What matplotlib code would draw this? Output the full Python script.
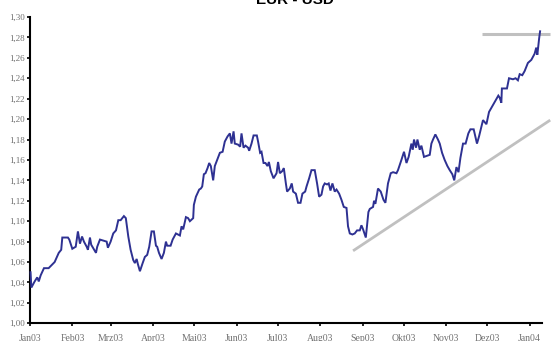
import numpy as np
import pandas as pd
import matplotlib
matplotlib.use("Agg")
import matplotlib.pyplot as plt


# ============================================================
# Data
# ============================================================

START = pd.Timestamp("2003-01-01")

# days since 2003-01-01
DAYS = [
    0.4, 1.0, 3.4, 5.3, 6.4, 7.8, 10.2, 13.6, 18.0, 21.0,
    22.8, 23.6, 27.7, 28.7, 30.9, 33.4, 35.0, 36.5, 38.0, 39.4,
    41.4, 42.3, 43.8, 44.7, 48.2, 49.1, 51.1, 56.0, 56.9, 58.9,
    60.8, 62.8, 64.5, 66.2, 68.6, 70.0, 71.8, 73.5, 75.4, 76.6,
    77.9, 78.8, 80.3, 82.3, 83.9, 85.6, 87.1, 88.8, 90.5, 92.0,
    92.9, 94.2, 96.1, 97.8, 99.3, 100.2, 102.7, 104.2, 106.6, 109.5,
    110.7, 111.9, 113.9, 115.5, 116.8, 119.2, 119.7, 121.2, 123.6, 124.8,
    125.8, 127.0, 128.2, 129.7, 130.9, 132.1, 133.8, 135.0, 136.7, 138.7,
    140.7, 142.3, 144.3, 146.0, 147.2, 148.7, 149.6, 152.0, 153.5, 154.5,
    156.0, 157.4, 159.3, 160.1, 161.8, 163.3, 165.7, 166.6, 168.1, 169.1,
    170.6, 172.0, 173.5, 174.5, 175.9, 177.9, 180.1, 181.2, 182.5, 184.2,
    185.4, 186.9, 187.8, 189.8, 191.2, 192.2, 194.2, 195.8, 197.6, 199.0,
    201.0, 202.0, 203.9, 205.6, 208.0, 209.7, 211.2, 212.9, 214.1, 215.3,
    217.0, 218.2, 219.5, 220.9, 222.6, 223.9, 225.8, 227.5, 229.2, 231.2,
    232.3, 233.6, 235.5, 237.2, 238.9, 240.9, 242.1, 243.3, 245.3, 247.2,
    248.2, 250.6, 251.3, 252.3, 254.2, 256.2, 258.2, 259.6, 261.5, 263.5,
    265.2, 267.7, 268.8, 271.3, 273.2, 275.0, 276.6, 278.6, 279.6, 280.5,
    282.0, 283.0, 284.7, 285.9, 287.8, 292.0, 293.2, 294.4, 296.1, 298.0,
    299.3, 301.0, 302.9, 304.9, 306.6, 308.5, 309.9, 311.5, 313.0, 314.4,
    316.3, 318.2, 320.2, 321.7, 324.1, 326.5, 328.0, 330.9, 333.4, 335.3,
    338.7, 342.1, 343.1, 344.3, 344.7, 348.4, 349.9, 352.8, 354.7, 356.4,
    357.7, 359.6, 361.3, 363.7, 366.2, 368.6, 369.8, 370.6, 371.9, 372.6,
]

EUR_USD = [
    1.050, 1.035, 1.041, 1.045, 1.041, 1.047, 1.054, 1.054, 1.060, 1.069,
    1.072, 1.084, 1.084, 1.082, 1.073, 1.075, 1.090, 1.078, 1.085, 1.080,
    1.075, 1.072, 1.084, 1.077, 1.069, 1.075, 1.082, 1.080, 1.074, 1.080,
    1.088, 1.091, 1.101, 1.101, 1.105, 1.103, 1.085, 1.072, 1.062, 1.059,
    1.063, 1.058, 1.051, 1.059, 1.065, 1.067, 1.075, 1.090, 1.090, 1.076,
    1.075, 1.069, 1.063, 1.069, 1.080, 1.076, 1.076, 1.082, 1.088, 1.086,
    1.095, 1.092, 1.104, 1.103, 1.100, 1.103, 1.116, 1.124, 1.131, 1.132,
    1.134, 1.146, 1.147, 1.152, 1.157, 1.154, 1.140, 1.154, 1.160, 1.167,
    1.168, 1.178, 1.183, 1.186, 1.176, 1.188, 1.176, 1.175, 1.173, 1.186,
    1.172, 1.174, 1.172, 1.169, 1.176, 1.184, 1.184, 1.178, 1.167, 1.168,
    1.157, 1.157, 1.154, 1.158, 1.149, 1.142, 1.147, 1.158, 1.147, 1.149,
    1.152, 1.137, 1.129, 1.132, 1.137, 1.129, 1.127, 1.118, 1.118, 1.127,
    1.129, 1.134, 1.142, 1.150, 1.150, 1.137, 1.124, 1.126, 1.134, 1.137,
    1.136, 1.137, 1.130, 1.137, 1.129, 1.131, 1.127, 1.121, 1.114, 1.113,
    1.095, 1.088, 1.087, 1.088, 1.091, 1.091, 1.096, 1.092, 1.084, 1.109,
    1.112, 1.114, 1.120, 1.117, 1.132, 1.129, 1.121, 1.118, 1.137, 1.147,
    1.148, 1.147, 1.150, 1.160, 1.168, 1.157, 1.163, 1.176, 1.170, 1.180,
    1.172, 1.180, 1.170, 1.174, 1.163, 1.165, 1.176, 1.180, 1.185, 1.180,
    1.176, 1.167, 1.160, 1.154, 1.150, 1.146, 1.140, 1.153, 1.148, 1.162,
    1.176, 1.176, 1.186, 1.190, 1.190, 1.176, 1.183, 1.199, 1.195, 1.207,
    1.215, 1.223, 1.221, 1.216, 1.230, 1.230, 1.240, 1.239, 1.240, 1.238,
    1.244, 1.243, 1.247, 1.255, 1.258, 1.264, 1.270, 1.263, 1.279, 1.286,
]

# grey support trend line and resistance level
TREND_DAYS = [236.0, 380.0]
TREND_VALUES = [1.071, 1.199]
RESIST_DAYS = [330.0, 380.0]
RESIST_VALUES = [1.283, 1.283]

MONTH_LABELS = [
    "Jan03", "Feb03", "Mrz03", "Apr03", "Mai03", "Jun03", "Jul03",
    "Aug03", "Sep03", "Okt03", "Nov03", "Dez03", "Jan04",
]
Y_TICKS = np.arange(1.00, 1.301, 0.02)


def to_dates(days):
    return START + pd.to_timedelta(days, unit="D")


# ============================================================
# Plot
# ============================================================

fig = plt.figure(figsize=(5.51, 3.41), dpi=100)
ax = fig.add_axes([30 / 551, 17.7 / 341, 512 / 551, 306.3 / 341])

ax.plot(to_dates(TREND_DAYS), TREND_VALUES, color="#c0c0c0",
        linewidth=2.0, solid_capstyle="butt", clip_on=False, zorder=2)
ax.plot(to_dates(RESIST_DAYS), RESIST_VALUES, color="#c0c0c0",
        linewidth=2.2, solid_capstyle="butt", clip_on=False, zorder=2)
ax.plot(to_dates(DAYS), EUR_USD, color="#2e3192", linewidth=1.4,
        solid_joinstyle="miter", clip_on=False, zorder=3)

ax.set_xlim(START, START + pd.Timedelta(days=374))
ax.set_ylim(1.00, 1.30)

month_ticks = pd.date_range("2003-01-01", "2004-01-01", freq="MS")
ax.set_xticks(month_ticks)
ax.set_xticklabels(MONTH_LABELS)
ax.set_yticks(Y_TICKS)
ax.set_yticklabels([f"{v:.2f}".replace(".", ",") for v in Y_TICKS])

for side in ["top", "right"]:
    ax.spines[side].set_visible(False)
for side in ["left", "bottom"]:
    ax.spines[side].set_linewidth(1.5)
    ax.spines[side].set_color("black")

ax.tick_params(axis="y", length=2.5, width=1.2, pad=1.0,
               labelsize=6.5, labelcolor="#707070")
ax.tick_params(axis="x", length=2.0, width=1.2, pad=6.0,
               labelsize=7, labelcolor="#707070")
for lbl in ax.get_xticklabels() + ax.get_yticklabels():
    lbl.set_family("Liberation Serif")

fig.text(295 / 551, 1 - 4 / 341, "EUR - USD", ha="center", va="baseline",
         fontsize=11, fontweight="bold", family="Liberation Sans")

fig.savefig("out.png", dpi=100)
